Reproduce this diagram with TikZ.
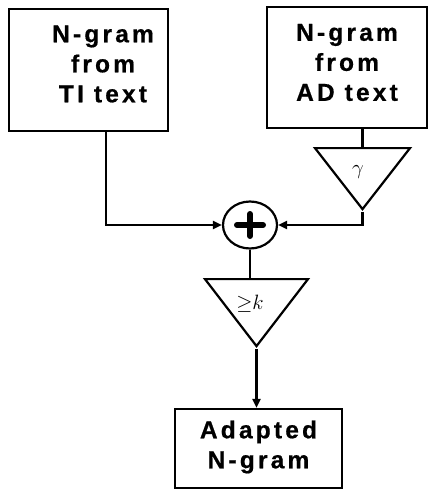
\documentclass[tikz,border=0pt]{standalone}
\usepackage{fontspec}
\newfontfamily\blockfont{Liberation Sans}[LetterSpace=13,BoldFeatures={FakeBold=0.6}]
\usetikzlibrary{arrows.meta,shapes,positioning,calc}
\tikzstyle{block}=[rectangle,draw,line width=2.2pt,inner sep=0pt]
\tikzstyle{blocktext}=[font=\blockfont\bfseries\fontsize{24.5}{30}\selectfont,align=center,inner sep=0pt]
\tikzstyle{gain}=[isosceles triangle,isosceles triangle stretches,shape border rotate=-90,draw,line width=2.2pt,inner sep=0pt]
\tikzstyle{gaintext}=[font=\fontsize{22}{22}\selectfont,inner sep=0pt]
\tikzstyle{adder}=[ellipse,draw,line width=2.2pt,minimum width=54pt,minimum height=47pt,
  path picture={\draw[line width=6pt,line cap=round]
    ([xshift=-13pt]path picture bounding box.center) -- ([xshift=13pt]path picture bounding box.center)
    ([yshift=-11pt]path picture bounding box.center) -- ([yshift=11pt]path picture bounding box.center);}]
\tikzstyle{edge}=[draw,line width=2.2pt,-{Triangle[length=9pt,width=8pt]}]
\tikzstyle{wire}=[draw,line width=2.2pt]

\begin{document}
\begin{tikzpicture}[x=1pt,y=1pt]
  \useasboundingbox (0,0) rectangle (429,-490);

  % blocks
  \node[block,minimum width=159pt,minimum height=122pt] (ti) at (88.5,-70) {};
  \node[block,minimum width=160pt,minimum height=121pt] (ad) at (347,-67.5) {};
  \node[block,minimum width=167pt,minimum height=79pt] (adapted) at (258.5,-448.5) {};
  \node[blocktext] at (103,-64) {N-gram\\from\\TI text};
  \node[blocktext] at (347,-62.5) {N-gram\\from\\AD text};
  \node[blocktext] at (258.5,-447) {Adapted\\N-gram};

  % gains and sum
  \node[gain,minimum width=95pt,minimum height=61pt,anchor=north] (gamma) at (362.5,-147) {};
  \node[gain,minimum width=103pt,minimum height=67pt,anchor=north] (thresh) at (256.5,-278) {};
  \node[gaintext] at (358,-172) {$\gamma$};
  \node[gaintext] at (250,-304) {${\geq}k$};
  \node[adder] (sum) at (250,-225) {};

  % connections
  \path[edge] ([xshift=17.5pt]ti.south) |- (sum.west);
  \path[wire] (gamma.north |- ad.south) -- (gamma.north);
  \path[edge] (gamma.apex) |- (sum.east);
  \path[wire] (sum.south) -- (sum.south |- thresh.north);
  \path[edge] (thresh.apex) -- (thresh.apex |- adapted.north);
\end{tikzpicture}
\end{document}
